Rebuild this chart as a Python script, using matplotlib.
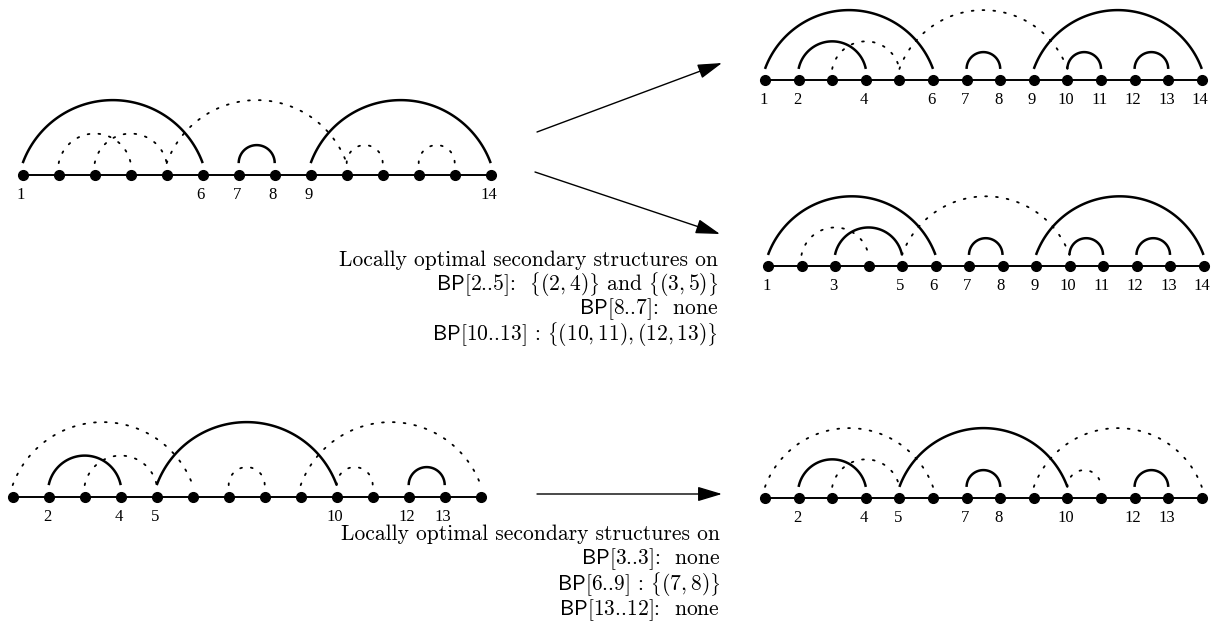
import numpy as np
import matplotlib
matplotlib.use("Agg")
import matplotlib.pyplot as plt

plt.rcParams['mathtext.fontset'] = 'cm'

W, H = 1216, 639

# arc diagrams: 14 bases, arcs as (i, j) pairs
n_bases = 14

top_left_solid = [(1, 6), (7, 8), (9, 14)]
top_left_dotted = [(2, 4), (3, 5), (5, 10), (10, 11), (12, 13)]
top_left_labels = [1, 6, 7, 8, 9, 14]

top_right_solid = [(1, 6), (2, 4), (7, 8), (9, 14), (10, 11), (12, 13)]
top_right_dotted = [(3, 5), (5, 10)]
top_right_labels = [1, 2, 4, 6, 7, 8, 9, 10, 11, 12, 13, 14]

mid_right_solid = [(1, 6), (3, 5), (7, 8), (9, 14), (10, 11), (12, 13)]
mid_right_dotted = [(2, 4), (5, 10)]
mid_right_labels = [1, 3, 5, 6, 7, 8, 9, 10, 11, 12, 13, 14]

bot_left_solid = [(2, 4), (5, 10), (12, 13)]
bot_left_dotted = [(1, 6), (3, 5), (7, 8), (9, 14), (10, 11)]
bot_left_labels = [2, 4, 5, 10, 12, 13]

bot_right_solid = [(2, 4), (5, 10), (7, 8), (12, 13)]
bot_right_dotted = [(1, 6), (3, 5), (9, 14), (10, 11)]
bot_right_labels = [2, 4, 5, 7, 8, 10, 12, 13]

text_top = [r"Locally optimal secondary structures on",
            r"$\mathsf{BP}$[2..5]:  $\left\{(2,4)\right\}$ and $\left\{(3,5)\right\}$",
            r"$\mathsf{BP}$[8..7]:  none",
            r"$\mathsf{BP}$[10..13] : $\left\{(10,11),(12,13)\right\}$"]
text_bot = [r"Locally optimal secondary structures on",
            r"$\mathsf{BP}$[3..3]:  none",
            r"$\mathsf{BP}$[6..9] : $\left\{(7,8)\right\}$",
            r"$\mathsf{BP}$[13..12]:  none"]

fig = plt.figure(figsize=(W / 100, H / 100), dpi=100)


def arc_points(i, j, lift=0.33):
    # circular segment between the two bases, flatter for wider spans
    d = j - i
    c = float(d)
    s = min(0.2 + 0.31 * d, c / 2)
    R = (c * c / 4 + s * s) / (2 * s)
    cx = (i + j) / 2
    cy = lift + s - R
    a1 = np.arctan2(lift - cy, j - cx)
    a0 = np.pi - a1
    t = np.linspace(a0, a1, 100)
    return cx + R * np.cos(t), cy + R * np.sin(t)


def draw_diagram(x0, sp, py, solid, dotted, labels):
    # x0: pixel x of base 1, sp: pixel spacing, py: pixel y of baseline (from top)
    ylo, yhi = -1.0, 2.6
    left = x0 - 0.5 * sp
    width = n_bases * sp
    bottom = H - (py - ylo * sp)
    height = (yhi - ylo) * sp
    ax = fig.add_axes([left / W, bottom / H, width / W, height / H])
    ax.set_xlim(0.5, n_bases + 0.5)
    ax.set_ylim(ylo, yhi)
    ax.axis('off')
    xs = np.arange(1, n_bases + 1)
    ax.plot([1, n_bases], [0, 0], color='black', lw=1.4, zorder=2)
    ax.plot(xs, np.zeros(n_bases), 'o', color='black', ms=7, zorder=3)
    for i, j in solid:
        x, y = arc_points(i, j)
        ax.plot(x, y, color='black', lw=1.8, solid_capstyle='butt')
    for i, j in dotted:
        x, y = arc_points(i, j)
        ax.plot(x, y, color='black', lw=1.3, linestyle=(0, (1, 5)),
                dash_capstyle='round')
    for k in labels:
        ax.text(k - 0.05, -20 / sp, str(k), ha='center', va='center',
                fontsize=12, family='Liberation Serif')


draw_diagram(22.7, 36.0, 175, top_left_solid, top_left_dotted, top_left_labels)
draw_diagram(765, 33.6, 80, top_right_solid, top_right_dotted, top_right_labels)
draw_diagram(768, 33.5, 266, mid_right_solid, mid_right_dotted, mid_right_labels)
draw_diagram(12.7, 36.0, 497, bot_left_solid, bot_left_dotted, bot_left_labels)
draw_diagram(765, 33.6, 498, bot_right_solid, bot_right_dotted, bot_right_labels)

# overlay in pixel coords for arrows and captions
over = fig.add_axes([0, 0, 1, 1])
over.set_xlim(0, W)
over.set_ylim(H, 0)
over.axis('off')

arrows = [((537, 132), (722, 63)), ((535, 172), (720, 234)), ((537, 494), (722, 494))]
for start, tip in arrows:
    over.annotate('', xy=tip, xytext=start,
                  arrowprops=dict(arrowstyle='-|>,head_length=1.5,head_width=0.45',
                                  color='black', lw=1.0, shrinkA=0, shrinkB=0))

# baselines of the caption lines (pixels from top)
top_baselines = [266, 290, 314, 340]
bot_baselines = [540, 564, 590, 615]
for y, line in zip(top_baselines, text_top):
    over.text(718, y, line, ha='right', va='baseline', fontsize=15.5,
              family='cmr10')
for y, line in zip(bot_baselines, text_bot):
    over.text(720, y, line, ha='right', va='baseline', fontsize=15.5,
              family='cmr10')

fig.savefig('out.png', dpi=100)
